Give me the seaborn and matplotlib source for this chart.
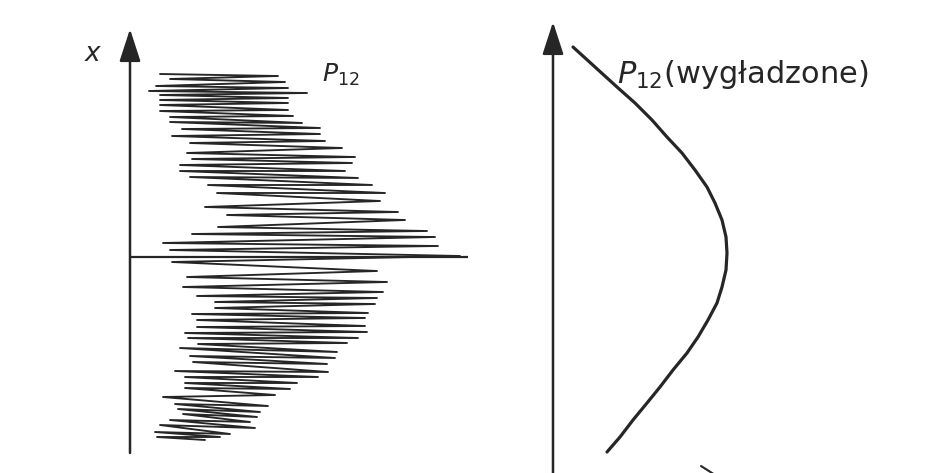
import matplotlib
matplotlib.use("Agg")
import matplotlib.pyplot as plt
import pandas as pd
import seaborn as sns

# Raw P12 trace: turning points of the zigzag (P along the horizontal, x along the vertical).
# Each stroke runs from a left end to the following right end.
p12_left_P = [30, 40, 26, 19, 30, 30, 30, 30, 40, 40, 52, 42, 60, 57, 62, 50, 50, 60, 78, 87,
              75, 97, 88, 62, 33, 40,
              42, 57, 53, 67, 85, 85, 62, 67, 67, 55, 58, 68, 50, 60, 63, 45, 55, 55, 55, 33,
              45, 48, 53, 40, 30, 25, 27]
p12_left_x = [183, 178, 171, 166, 162, 157, 152, 146, 140, 135, 128, 121, 114, 104, 98, 92, 86, 80, 72, 64,
              50, 42, 30, 23, 14, 7,
              -5, -20, -30, -39, -45, -51, -57, -63, -70, -76, -81, -87, -91, -99, -105, -114, -120, -126, -131, -140,
              -147, -152, -157, -163, -168, -175, -180]
p12_right_P = [148, 155, 158, 177, 158, 158, 158, 163, 172, 190, 190, 195, 212, 225, 222, 215, 228, 242, 255, 250,
               268, 275, 297, 305, 308, 330,
               247, 257, 253, 247, 245, 238, 235, 235, 237, 228, 217, 207, 205, 197, 198, 188, 167, 160, 145, 138,
               130, 127, 120, 125, 100, 90, 75]
p12_right_x = [181, 175, 169, 164, 159, 154, 147, 141, 134, 129, 123, 116, 109, 100, 94, 86, 79, 72, 64, 56,
               45, 37, 26, 20, 11, 1,
               -14, -25, -35, -41, -47, -56, -61, -69, -75, -81, -86, -95, -101, -107, -115, -120, -126, -132, -138, -149,
               -155, -160, -165, -171, -177, -180, -183]

# Smoothed P12 profile
smooth_P = [20, 42, 64, 82, 99, 114, 129, 142, 154, 162, 169, 173, 174, 173, 169, 164, 155, 145,
            134, 120, 107, 94, 80, 67, 54]
smooth_x = [210, 190, 170, 154, 137, 120, 104, 87, 70, 54, 37, 20, 4, -13, -30, -46, -63, -80,
            -96, -113, -130, -146, -163, -180, -195]

# Labels
label_x = "x"
label_raw = r"$P_{12}$"
label_smooth = r"$P_{12}$(wygładzone)"

ink = "#262626"

sns.set_theme(style="white")
plt.rcParams["font.family"] = ["DejaVu Sans"]
plt.rcParams["mathtext.fontset"] = "custom"
plt.rcParams["mathtext.it"] = "DejaVu Sans:italic"
plt.rcParams["mathtext.rm"] = "DejaVu Sans"

fig = plt.figure(figsize=(9.36, 4.73), dpi=100)
fig.patch.set_facecolor("white")

ax_raw = fig.add_axes([0.0, 0.0, 0.5, 1.0])
ax_smooth = fig.add_axes([0.5, 0.0, 0.5, 1.0])
for ax in (ax_raw, ax_smooth):
    ax.set_axis_off()
    ax.set_facecolor("white")
ax_raw.set_xlim(-130, 338)
ax_raw.set_ylim(-216, 257)
ax_smooth.set_xlim(-85, 383)
ax_smooth.set_ylim(-216, 257)

# zigzag trace: left end, right end, left end, ...
rows = []
for lp, lx, rp, rx in zip(p12_left_P, p12_left_x, p12_right_P, p12_right_x):
    rows.append((lp, lx))
    rows.append((rp, rx))
raw = pd.DataFrame(rows, columns=["P", "x"])
sns.lineplot(data=raw, x="P", y="x", sort=False, estimator=None, ax=ax_raw,
             color=ink, lw=1.35, legend=False)

smooth = pd.DataFrame({"P": smooth_P, "x": smooth_x})
sns.lineplot(data=smooth, x="P", y="x", sort=False, estimator=None, ax=ax_smooth,
             color=ink, lw=2.3, legend=False)

# coordinate axes
arrow = dict(arrowstyle="-|>,head_length=2.0,head_width=0.65", mutation_scale=10,
             lw=1.8, color=ink, shrinkA=0, shrinkB=0)
ax_raw.annotate("", xy=(0, 228), xytext=(0, -196), arrowprops=arrow, annotation_clip=False)
ax_raw.hlines(0, 0, 353, color=ink, lw=1.6)
ax_smooth.annotate("", xy=(0, 235), xytext=(0, -240), arrowprops=arrow, annotation_clip=False)
ax_smooth.annotate("", xy=(175, -225), xytext=(0, -225),
                   arrowprops=dict(arrowstyle="->,head_length=1.8,head_width=1.15",
                                   mutation_scale=10, lw=1.5, color=ink,
                                   shrinkA=0, shrinkB=0),
                   annotation_clip=False)

ax_raw.text(-38, 203, label_x, fontsize=19, style="italic", color=ink,
            ha="center", va="center")
ax_raw.text(192, 175, label_raw, fontsize=18, color=ink, ha="left", va="baseline")
ax_smooth.text(64, 174, label_smooth, fontsize=22, color=ink, ha="left", va="baseline")

fig.savefig("out.png", dpi=100, facecolor="white")
